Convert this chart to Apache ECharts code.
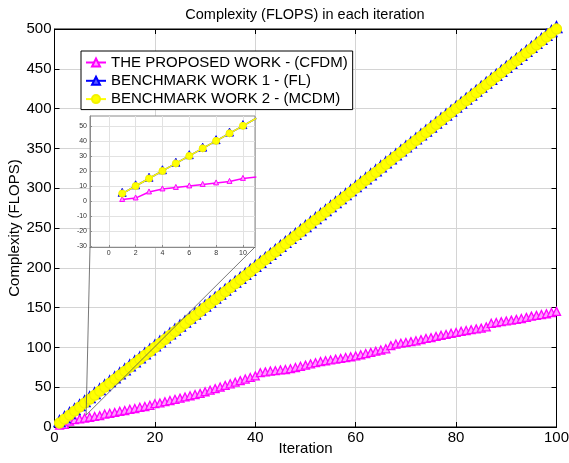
<!DOCTYPE html>
<html>
<head>
<meta charset="utf-8">
<script src="https://cdn.jsdelivr.net/npm/echarts@6/dist/echarts.min.js"></script>
<style>
  html, body { margin: 0; padding: 0; background: #fff; }
  #chart { width: 569px; height: 463px; }
</style>
</head>
<body>
<div id="chart"></div>
<script>
// Iteration index (x values)
const iterations = [
  1, 2, 3, 4, 5, 6, 7, 8, 9, 10, 11, 12, 13, 14, 15, 16, 17, 18, 19, 20,
  21, 22, 23, 24, 25, 26, 27, 28, 29, 30, 31, 32, 33, 34, 35, 36, 37, 38, 39, 40,
  41, 42, 43, 44, 45, 46, 47, 48, 49, 50, 51, 52, 53, 54, 55, 56, 57, 58, 59, 60,
  61, 62, 63, 64, 65, 66, 67, 68, 69, 70, 71, 72, 73, 74, 75, 76, 77, 78, 79, 80,
  81, 82, 83, 84, 85, 86, 87, 88, 89, 90, 91, 92, 93, 94, 95, 96, 97, 98, 99, 100
];

// THE PROPOSED WORK - (CFDM)
const proposedCFDM = [
  1, 2, 6, 8, 9, 10, 11, 12, 13, 15,
  16, 17, 18.5, 19.5, 21, 22, 23.5, 24.5, 26, 28,
  29, 30.5, 32, 33.5, 35, 36.5, 38, 39.5, 41, 43,
  45, 47, 49, 51, 53, 55, 57, 59, 61, 63,
  67, 68, 69, 69.5, 70.5, 71, 72, 73.5, 75, 76.5,
  78, 79.5, 81, 82, 83, 84, 85, 86, 87, 88,
  89.5, 91, 92.5, 94, 95.5, 97, 101, 103, 104, 105,
  106, 107, 108.5, 110, 111, 112.5, 114, 115, 116.5, 117.5,
  119, 120, 121, 122, 123, 124.5, 129, 130, 131, 132,
  133, 134, 135, 136.5, 138, 139, 140, 141, 142.5, 144
];

// BENCHMARK WORK 1 - (FL)
const benchmarkFL = [
  5, 10, 15, 20, 25, 30, 35, 40, 45, 50, 55, 60, 65, 70, 75, 80, 85, 90, 95, 100,
  105, 110, 115, 120, 125, 130, 135, 140, 145, 150, 155, 160, 165, 170, 175, 180, 185, 190, 195, 200,
  205, 210, 215, 220, 225, 230, 235, 240, 245, 250, 255, 260, 265, 270, 275, 280, 285, 290, 295, 300,
  305, 310, 315, 320, 325, 330, 335, 340, 345, 350, 355, 360, 365, 370, 375, 380, 385, 390, 395, 400,
  405, 410, 415, 420, 425, 430, 435, 440, 445, 450, 455, 460, 465, 470, 475, 480, 485, 490, 495, 500
];

// BENCHMARK WORK 2 - (MCDM)
const benchmarkMCDM = [
  5, 10, 15, 20, 25, 30, 35, 40, 45, 50, 55, 60, 65, 70, 75, 80, 85, 90, 95, 100,
  105, 110, 115, 120, 125, 130, 135, 140, 145, 150, 155, 160, 165, 170, 175, 180, 185, 190, 195, 200,
  205, 210, 215, 220, 225, 230, 235, 240, 245, 250, 255, 260, 265, 270, 275, 280, 285, 290, 295, 300,
  305, 310, 315, 320, 325, 330, 335, 340, 345, 350, 355, 360, 365, 370, 375, 380, 385, 390, 395, 400,
  405, 410, 415, 420, 425, 430, 435, 440, 445, 450, 455, 460, 465, 470, 475, 480, 485, 490, 495, 500
];

const seriesNames = [
  'THE PROPOSED WORK - (CFDM)',
  'BENCHMARK WORK 1 - (FL)',
  'BENCHMARK WORK 2 - (MCDM)'
];

// Tick values
const mainXTicks = [0, 20, 40, 60, 80, 100];
const mainYTicks = [0, 50, 100, 150, 200, 250, 300, 350, 400, 450, 500];
const insetXTicks = [0, 2, 4, 6, 8, 10];
const insetYTicks = [-30, -20, -10, 0, 10, 20, 30, 40, 50];
const insetCount = 11; // first iterations shown in the magnified view

const FONT = '"Liberation Sans", Arial, Helvetica, sans-serif';
const pairs = (ys, n) => ys.slice(0, n).map((y, i) => [iterations[i], y]);

const chart = echarts.init(document.getElementById('chart'), null, { renderer: 'canvas' });

// triangles are nudged up so they sit on their centroid, like the classic plot markers
const styles = [
  { line: '#ff00ff', fill: '#ff9cff', border: '#ff00ff', symbol: 'triangle', size: 8, offset: [0, -1] },
  { line: '#0000ff', fill: '#5a5aff', border: '#0000ff', symbol: 'triangle', size: 11, offset: [0, -2] },
  { line: '#ffff00', fill: '#ffff00', border: '#f2f200', symbol: 'circle', size: 10, offset: [0, 0] }
];
const valueSets = [proposedCFDM, benchmarkFL, benchmarkMCDM];

function makeSeries(idx, axisIdx, n, inset) {
  const s = styles[idx];
  return {
    name: seriesNames[idx],
    type: 'line',
    xAxisIndex: axisIdx,
    yAxisIndex: axisIdx,
    data: pairs(valueSets[idx], n),
    symbol: s.symbol,
    symbolSize: inset ? s.size - 3 : s.size,
    symbolOffset: inset ? [0, s.offset[1] * 0.6] : s.offset,
    showAllSymbol: true,
    clip: true,
    z: inset ? 12 + idx : 2 + idx,
    lineStyle: { color: s.line, width: inset ? 1.5 : 2 },
    itemStyle: { color: s.fill, borderColor: s.border, borderWidth: inset ? 1 : 1.3 },
    emphasis: { disabled: true },
    animation: false
  };
}

const axisCommon = {
  axisLine: { show: true, onZero: false, lineStyle: { color: '#000', width: 1 } },
  axisTick: { show: true, inside: true, length: 5, lineStyle: { color: '#000' } }
};

const option = {
  animation: false,
  backgroundColor: '#ffffff',
  title: {
    text: 'Complexity (FLOPS) in each iteration',
    left: 305,
    top: 7,
    textAlign: 'center',
    padding: 0,
    textStyle: { fontFamily: FONT, fontSize: 14.5, fontWeight: 'normal', color: '#000' }
  },
  legend: {
    data: seriesNames,
    orient: 'vertical',
    left: 81,
    top: 51,
    padding: [4, 5, 3, 4],
    itemWidth: 20,
    itemHeight: 10,
    itemGap: 3.3,
    backgroundColor: '#ffffff',
    borderColor: '#000',
    borderWidth: 1,
    borderRadius: 0,
    selectedMode: false,
    textStyle: { fontFamily: FONT, fontSize: 15, color: '#000' }
  },
  grid: [
    { left: 54.5, top: 29, width: 502, height: 398, outerBoundsMode: 'none', containLabel: false,
      show: true, borderColor: '#000', borderWidth: 1, backgroundColor: '#fff' },
    { left: 90, top: 116, width: 165, height: 131, outerBoundsMode: 'none', containLabel: false,
      show: true, z: 10, borderColor: '#8a8a8a', borderWidth: 1, backgroundColor: '#fff' }
  ],
  xAxis: [
    Object.assign({}, axisCommon, {
      type: 'value', gridIndex: 0, min: 0, max: 100, interval: 20,
      name: 'Iteration', nameLocation: 'middle', nameGap: 14.5, nameMoveOverlap: false,
      nameTextStyle: { fontFamily: FONT, fontSize: 15, color: '#000' },
      axisLabel: { fontFamily: FONT, fontSize: 15, color: '#000', margin: 3, customValues: mainXTicks },
      splitLine: { show: true, lineStyle: { color: '#d4d4d4', width: 1 } }
    }),
    Object.assign({}, axisCommon, {
      type: 'value', gridIndex: 0, min: 0, max: 100, interval: 20, position: 'top',
      axisLabel: { show: false }, splitLine: { show: false }
    }),
    {
      type: 'value', gridIndex: 1, min: -1.4, max: 10.9, z: 11,
      axisLine: { show: true, onZero: false, lineStyle: { color: '#8a8a8a', width: 1 } },
      axisTick: { show: true, inside: true, length: 2, customValues: insetXTicks, lineStyle: { color: '#8a8a8a' } },
      axisLabel: { fontFamily: FONT, fontSize: 7, color: '#333', margin: 3, customValues: insetXTicks },
      splitLine: { show: true, lineStyle: { color: '#e2e2e2', width: 1 } }
    }
  ],
  yAxis: [
    Object.assign({}, axisCommon, {
      type: 'value', gridIndex: 0, min: 0, max: 500, interval: 50,
      name: 'Complexity (FLOPS)', nameLocation: 'middle', nameGap: 32, nameRotate: 90, nameMoveOverlap: false,
      nameTextStyle: { fontFamily: FONT, fontSize: 15, color: '#000' },
      axisLabel: { fontFamily: FONT, fontSize: 15, color: '#000', margin: 3, customValues: mainYTicks },
      splitLine: { show: true, lineStyle: { color: '#d4d4d4', width: 1 } }
    }),
    Object.assign({}, axisCommon, {
      type: 'value', gridIndex: 0, min: 0, max: 500, interval: 50, position: 'right',
      axisLabel: { show: false }, splitLine: { show: false }
    }),
    {
      type: 'value', gridIndex: 1, min: -30.5, max: 56.5, z: 11,
      axisLine: { show: true, onZero: false, lineStyle: { color: '#8a8a8a', width: 1 } },
      axisTick: { show: true, inside: true, length: 2, customValues: insetYTicks, lineStyle: { color: '#8a8a8a' } },
      axisLabel: { fontFamily: FONT, fontSize: 7, color: '#333', margin: 3, customValues: insetYTicks },
      splitLine: { show: true, lineStyle: { color: '#e2e2e2', width: 1 } }
    }
  ],
  series: [
    makeSeries(0, 0, iterations.length, false),
    makeSeries(1, 0, iterations.length, false),
    makeSeries(2, 0, iterations.length, false),
    makeSeries(0, 2, insetCount, true),
    makeSeries(1, 2, insetCount, true),
    makeSeries(2, 2, insetCount, true)
  ]
};

chart.setOption(option);

// Connector lines from the magnified region to the inset's lower corners
const focus = chart.convertToPixel({ xAxisIndex: 0, yAxisIndex: 0 }, [6.3, 15]);
const insetBL = chart.convertToPixel({ xAxisIndex: 2, yAxisIndex: 2 }, [-1.4, -30.5]);
const insetBR = chart.convertToPixel({ xAxisIndex: 2, yAxisIndex: 2 }, [10.9, -30.5]);
chart.setOption({
  graphic: [
    { type: 'line', z: 20, silent: true,
      shape: { x1: insetBL[0], y1: insetBL[1], x2: focus[0], y2: focus[1] },
      style: { stroke: '#555', lineWidth: 0.8 } },
    { type: 'line', z: 20, silent: true,
      shape: { x1: insetBR[0], y1: insetBR[1], x2: focus[0], y2: focus[1] },
      style: { stroke: '#555', lineWidth: 0.8 } }
  ]
});
</script>
</body>
</html>
